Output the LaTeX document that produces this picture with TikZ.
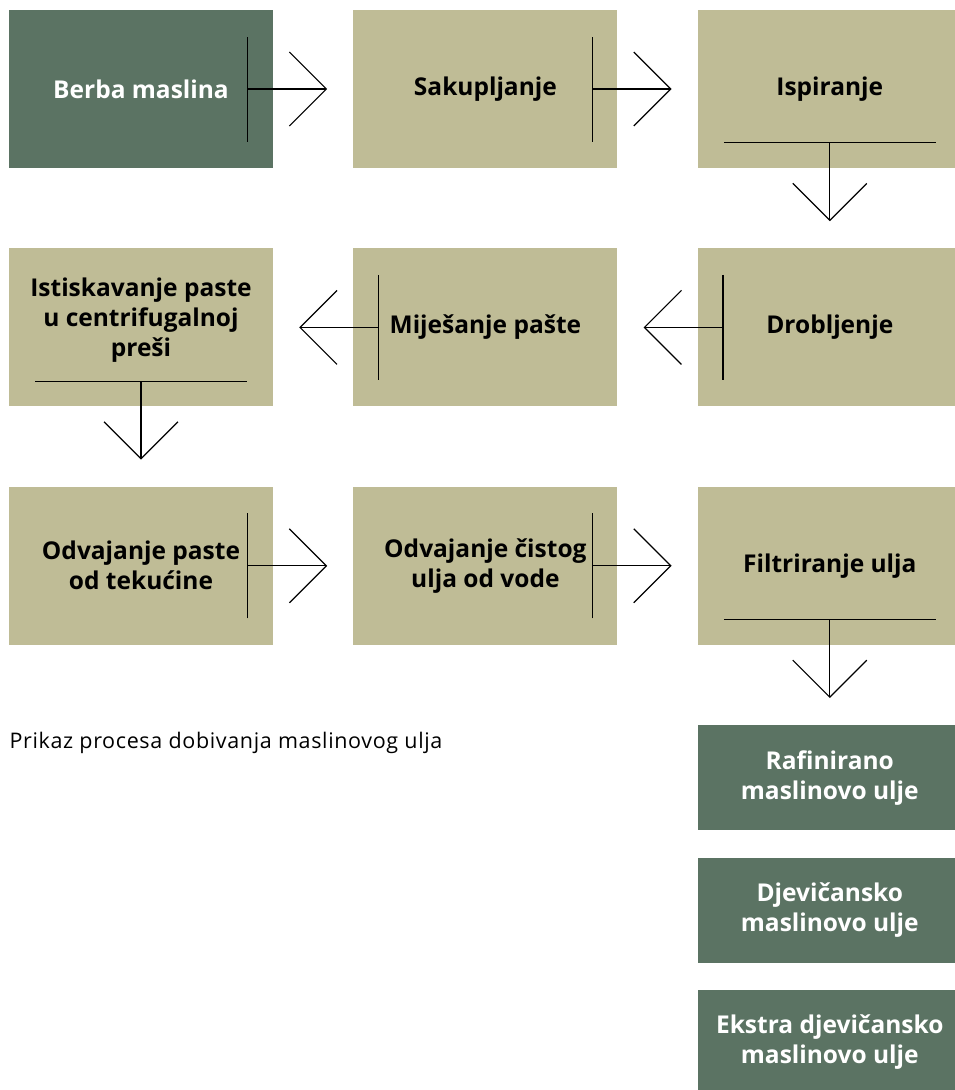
\documentclass[tikz,border=0pt]{standalone}
\usepackage{fontspec}
\setmainfont{Open Sans}
\newfontfamily\captionfont[LetterSpace=3]{Open Sans}
\usepackage{tikz}
\usetikzlibrary{positioning,arrows.meta}
\definecolor{OliveDark}{HTML}{5B7363}
\definecolor{OliveSand}{HTML}{BFBC96}

\begin{document}
\begin{tikzpicture}[node distance=80pt]
    \tikzstyle{procbox}=[fill=OliveSand,text=black,minimum width=264pt,minimum height=158pt,
      inner sep=0pt,align=center,font=\fontsize{24.5}{30}\selectfont\bfseries]
    \tikzstyle{oilbox}=[procbox,fill=OliveDark,text=white,minimum height=105pt]
    \tikzstyle{harrow}=[line width=1.2pt,{Bar[width=105pt]}-{Straight Barb[length=37pt,width=74pt]}]
    \tikzstyle{varrow}=[line width=1.2pt,{Bar[width=212pt]}-{Straight Barb[length=37pt,width=74pt]}]
    \clip (0,0) rectangle (955pt,-1090pt);
    % first row
    \node[procbox,fill=OliveDark,text=white] (b1) at (141pt,-89pt) {Berba maslina};
    \node[procbox,right=of b1] (b2) {Sakupljanje};
    \node[procbox,right=of b2] (b3) {Ispiranje};
    % second row, right to left
    \node[procbox,below=of b3] (b6) {Drobljenje};
    \node[procbox,left=of b6] (b5) {Miješanje pašte};
    \node[procbox,left=of b5] (b4) {Istiskavanje paste\\u centrifugalnoj\\preši\\[-10pt]};
    % third row
    \node[procbox,below=of b4] (b7) {Odvajanje paste\\od tekućine};
    \node[procbox,right=of b7] (b8) {Odvajanje čistog\\ulja od vode};
    \node[procbox,right=of b8] (b9) {Filtriranje ulja};
    % kinds of oil
    \node[oilbox,below=of b9] (o1) {Rafinirano\\maslinovo ulje};
    \node[oilbox,below=27pt of o1] (o2) {Djevičansko\\maslinovo ulje};
    \node[oilbox,below=27pt of o2] (o3) {Ekstra djevičansko\\maslinovo ulje};
    \node[anchor=west,font=\captionfont\fontsize{21.5}{25}\selectfont] (cap) at (6pt,-743pt)
      {Prikaz procesa dobivanja maslinovog ulja};
    \draw[harrow] ([xshift=-26pt]b1.east)--([xshift=-26pt]b2.west);
    \draw[harrow] ([xshift=-26pt]b2.east)--([xshift=-26pt]b3.west);
    \draw[varrow] ([yshift=26pt]b3.south)--([yshift=27pt]b6.north);
    \draw[harrow] ([xshift=26pt]b6.west)--([xshift=26pt]b5.east);
    \draw[harrow] ([xshift=26pt]b5.west)--([xshift=26pt]b4.east);
    \draw[varrow] ([yshift=26pt]b4.south)--([yshift=27pt]b7.north);
    \draw[harrow] ([xshift=-26pt]b7.east)--([xshift=-26pt]b8.west);
    \draw[harrow] ([xshift=-26pt]b8.east)--([xshift=-26pt]b9.west);
    \draw[varrow] ([yshift=26pt]b9.south)--([yshift=27pt]o1.north);
  \end{tikzpicture}
\end{document}
